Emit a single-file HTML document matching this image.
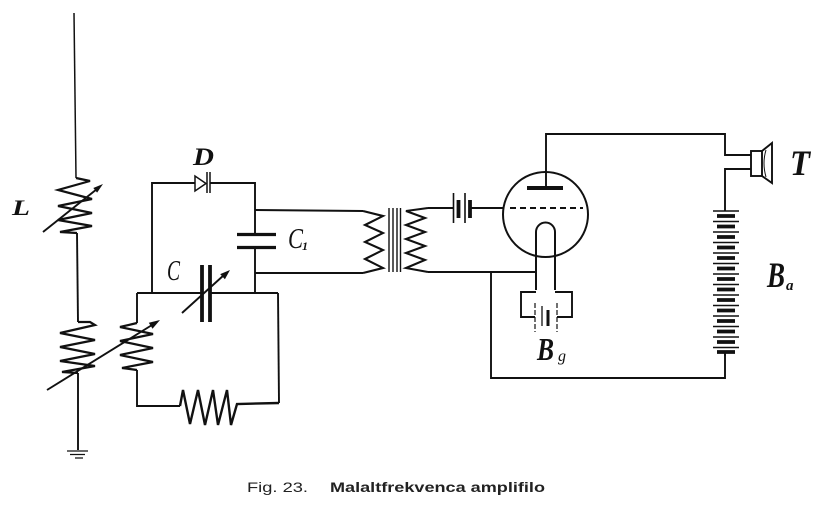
<!DOCTYPE html>
<html>
<head>
<meta charset="utf-8">
<style>
html,body{margin:0;padding:0;background:#fff;}
svg{display:block;}
</style>
</head>
<body>
<svg width="819" height="515" viewBox="0 0 819 515" xmlns="http://www.w3.org/2000/svg">
<rect width="819" height="515" fill="#fff"/>
<g fill="none" stroke="#111" stroke-width="1.9" stroke-linejoin="miter" stroke-linecap="butt">
  <!-- antenna + L coil -->
  <path d="M74 13 L76 178" stroke-width="1.5"/>
  <polyline points="76,178 90,181 58,190 92,199 58,206 92,213 58,220 92,226 60,232 77,233" stroke-width="2.2"/>
  <path d="M77 233 L78 322"/>
  <!-- lower left coil -->
  <polyline points="78,322 90,322 95,325 60,333 95,340 60,347 95,354 60,361 95,366 62,372 78,373" stroke-width="2.2"/>
  <path d="M78 373 L78 450"/>
  <!-- ground -->
  <path d="M67 451 L88 451 M70 454.5 L85 454.5 M75 458 L83 458" stroke-width="1.2"/>
  <!-- second coil in tuned circuit -->
  <path d="M137 293 L137 323"/>
  <polyline points="137,323 120,327 153,334 120,341 153,348 120,355 153,362 122,368 137,370" stroke-width="2.2"/>
  <path d="M137 370 L137 406 L180 406"/>
  <!-- resistor -->
  <polyline points="180,406 183,390 190,424 198,390 205,425 213,390 218,425 227,390 231,425 237,404 279,403" stroke-width="2.4"/>
  <path d="M279 403 L278 293"/>
  <!-- top of rectangle with variable cap -->
  <path d="M137 293 L202 293 M210 293 L278 293"/>
  <!-- D loop -->
  <path d="M152 293 L152 183 L195 183"/>
  <path d="M210 183 L255 183 L255 234"/>
  <path d="M255 248 L255 293"/>
  <polygon points="195,176 195,191 206,183.5" stroke-width="1.5"/>
  <path d="M207 172 L207 193 M210 172 L210 193" stroke-width="1.5"/>
  <!-- wires to transformer -->
  <path d="M255 210 L363 211"/>
  <path d="M255 273 L363 273"/>
  <!-- primary -->
  <polyline points="363,211 383,216 365,225 383,233 365,242 383,250 365,259 383,268 363,273" stroke-width="2.1"/>
  <!-- core -->
  <path d="M389 208 L389 272 M393 208 L393 272 M397 208 L397 272 M400.5 208 L400.5 272" stroke-width="1.4"/>
  <!-- secondary -->
  <polyline points="428,208 406,211 425,218 406,225 425,232 406,239 425,246 406,253 425,260 406,268 428,272" stroke-width="2.1"/>
  <path d="M428 208 L453 208 M470 208 L503 208"/>
  <path d="M428 272 L536 272"/>
  <path d="M491 272 L491 378 L725 378 L725 352"/>
  <!-- grid battery -->
  <path d="M453.5 193 L453.5 223 M465 193 L465 223" stroke-width="1.6"/>
  <path d="M458.5 200 L458.5 218 M470 200 L470 218" stroke-width="3.8"/>
  <!-- tube -->
  <circle cx="545.5" cy="214.5" r="42.5" stroke-width="2"/>
  <path d="M510 208 L583 208" stroke-dasharray="6 4"/>
  <path d="M527 188 L563 188" stroke-width="4"/>
  <path d="M546 188 L546 134 L725 134 L725 155 L751 155"/>
  <path d="M751 169 L725 169 L725 211"/>
  <!-- speaker -->
  <rect x="751" y="151" width="11" height="25"/>
  <path d="M762 151 L772 143 L772 183 L762 176"/>
  <path d="M766 150 Q762 163 766 177" stroke-width="1"/>
  <!-- cathode -->
  <path d="M536 290 L536 232 A9.5 9.5 0 0 1 555 232 L555 290" stroke-width="2"/>
  <path d="M536 292 L521 292 L521 317 L535 317"/>
  <path d="M555 292 L572 292 L572 317 L557 317"/>
  <path d="M535 303 L535 332 M557 303 L557 332" stroke-width="1.2" stroke-dasharray="5 2"/>
  <path d="M542 306 L542 326" stroke-width="1.3"/>
  <path d="M548 310 L548 326" stroke-width="3"/>
  <!-- variable capacitor C -->
  <path d="M202 265 L202 322 M210 265 L210 322" stroke-width="3.8"/>
  <!-- C1 plates -->
  <path d="M237 234.5 L276 234.5 M237 247.5 L276 247.5" stroke-width="3.2"/>
  <!-- arrows -->
  <path d="M43 232 L97 189"/>
  <path d="M47 390 L152 325"/>
  <path d="M182 313 L224 275"/>
</g>
<g fill="#111" stroke="none">
  <polygon points="103,184 97.1,192.6 93.3,188.0"/>
  <polygon points="160,320 152.5,328.8 148.8,322.8"/>
  <polygon points="230,270 224.9,279.3 220.2,274.1"/>
</g>
<g stroke="#111" fill="none">
  <path d="M713 211 L739 211 M713 221.5 L739 221.5 M713 232 L739 232 M713 242.5 L739 242.5 M713 253 L739 253 M713 263.5 L739 263.5 M713 274 L739 274 M713 284.5 L739 284.5 M713 295 L739 295 M713 305.5 L739 305.5 M713 316 L739 316 M713 326.5 L739 326.5 M713 337 L739 337 M713 347.5 L739 347.5" stroke-width="1.6"/>
  <path d="M717 216 L735 216 M717 226.5 L735 226.5 M717 237 L735 237 M717 247.5 L735 247.5 M717 258 L735 258 M717 268.5 L735 268.5 M717 279 L735 279 M717 289.5 L735 289.5 M717 300 L735 300 M717 310.5 L735 310.5 M717 321 L735 321 M717 331.5 L735 331.5 M717 342 L735 342 M717 352 L735 352" stroke-width="3.8"/>
  <path d="M725 352 L725 356" stroke-width="1.9"/>
</g>
<g fill="#111" font-family="'Liberation Serif', serif">
  <text x="12" y="215" font-size="22" font-weight="bold" font-style="italic" textLength="18" lengthAdjust="spacingAndGlyphs">L</text>
  <text x="193" y="165" font-size="25" font-weight="bold" font-style="italic" textLength="21" lengthAdjust="spacingAndGlyphs">D</text>
  <text x="167" y="280" font-size="29" font-style="italic" textLength="13" lengthAdjust="spacingAndGlyphs">C</text>
  <text x="288" y="248" font-size="29" font-style="italic" textLength="15" lengthAdjust="spacingAndGlyphs">C</text>
  <text x="302" y="250" font-size="12" font-style="italic" font-weight="bold">1</text>
  <text x="790" y="175" font-size="36" font-weight="bold" font-style="italic" textLength="20" lengthAdjust="spacingAndGlyphs">T</text>
  <text x="767" y="287" font-size="36" font-weight="bold" font-style="italic" textLength="18" lengthAdjust="spacingAndGlyphs">B</text>
  <text x="786" y="290" font-size="15" font-style="italic" font-weight="bold">a</text>
  <text x="537" y="360" font-size="32" font-weight="bold" font-style="italic" textLength="17" lengthAdjust="spacingAndGlyphs">B</text>
  <text x="558" y="361" font-size="16" font-style="italic">g</text>
</g>
<g fill="#222" font-family="'Liberation Sans', sans-serif" font-size="14">
  <text x="247" y="492" textLength="61" lengthAdjust="spacingAndGlyphs">Fig. 23.</text>
  <text x="330" y="492" font-weight="bold" textLength="215" lengthAdjust="spacingAndGlyphs">Malaltfrekvenca amplifilo</text>
</g>
</svg>
</body>
</html>
